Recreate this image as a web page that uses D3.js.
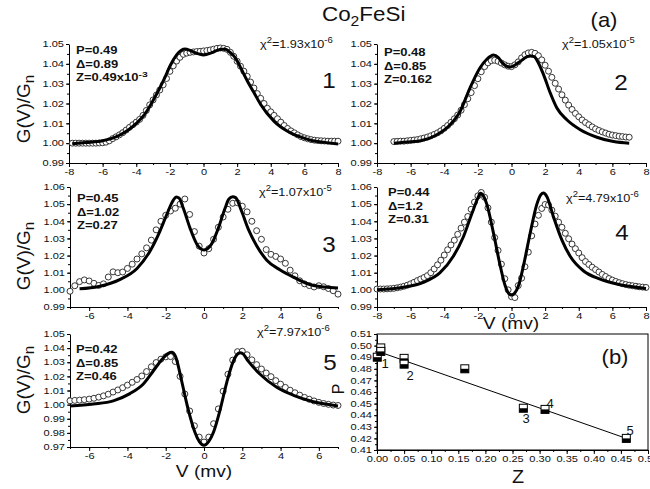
<!DOCTYPE html>
<html>
<head>
<meta charset="utf-8">
<script src="https://cdn.jsdelivr.net/npm/d3@7"></script>
<style>
  body { margin: 0; background: #fff; }
  svg { display: block; }
  text { font-family: "Liberation Sans", Arial, sans-serif; fill: #111; }
</style>
</head>
<body>
<div id="chart"></div>
<script>
// ---- data (G values as (G/Gn - 1) * 1000) ----

// measured points (open circles), evenly sampled in V
const meas1V = d3.range(0, 80).map(i => +(-7.8 + i * 0.2).toFixed(2));
const meas1G = [0,0,0,0,0,0,0,0,0.1,0.2, 0.5,1.2,2.3,3.2,4.2,5.3,6.6,8.0,9.3,10.6,
  12.0,14.0,16.5,19.3,21.8,24.3,26.8,29.4,32.6,36.2, 39.0,41.4,43.3,44.8,45.4,45.8,46.0,46.2,46.3,46.5,
  46.7,47.0,47.4,47.8,48.0,47.8,47.3,45.8,43.8,41.3, 38.8,36.3,33.7,30.8,27.8,25.0,22.6,20.0,17.6,15.8,
  14.0,12.3,10.6,8.9,7.4,6.2,5.2,4.2,3.3,2.7, 2.2,1.8,1.5,1.3,1.2,1.1,1.0,1.0,1.0,1.0];

const meas2V = d3.range(0, 71).map(i => +(-7 + i * 0.2).toFixed(2));
const meas2G = [0.8,0.9,1.0,1.0,1.2,1.4,1.6,1.8,2.2,2.6, 3.1,3.7,4.4,5.2,6.2,7.5,8.9,10.5,12.3,14.2,
  16.6,19.4,22.4,25.5,29.0,32.5,36.0,38.6,40.5,41.6, 41.8,41.3,40.4,39.5,38.8,38.6,39.5,41.0,43.0,44.6,
  45.5,45.8,45.3,44.1,42.0,39.3,36.3,33.2,30.2,27.3, 24.4,21.7,19.2,17.0,15.0,13.3,11.7,10.4,9.3,8.2,
  7.2,6.4,5.7,5.1,4.5,4.1,3.8,3.5,3.3,3.1, 3.0];

const meas3V = d3.range(0, 57).map(i => +(-7 + i * 0.25).toFixed(2));
const meas3G = [-0.8,2.4,4.8,5.8,5.2,3.8,2.6,3.5,7.5,10.5, 10.0,10.4,12.5,15.0,18.0,21.0,24.5,29.0,35.0,40.0,
  43.5,46.0,47.6,50.0,53.0,44.0,34.0,25.5,21.5,24.0, 29.5,36.5,42.5,47.0,50.5,50.8,48.8,45.5,40.0,34.5,
  29.5,23.5,20.7,19.5,18.0,15.5,11.5,8.2,5.3,3.5, 2.5,1.7,2.4,1.8,0.8,-0.5,-2.5];

const meas4V = d3.range(0, 81).map(i => +(-8 + i * 0.2).toFixed(2));
const meas4G = [0.5,0.5,0.5,0.6,0.7,0.9,1.2,1.6,2.1,2.7, 3.5,4.4,5.4,6.3,7.2,8.3,10.0,12.2,14.6,17.3,
  20.3,23.4,26.2,29.0,32.4,36.0,39.5,42.8,47.0,51.2, 54.8,56.8,54.0,47.8,39.5,30.5,23.0,15.0,6.5,0.0,
  -4.0,-4.5,2.5,6.8,13.5,22.0,31.5,38.4,43.5,47.5, 49.8,49.5,46.5,43.0,39.5,36.5,33.0,29.8,26.7,24.0,
  21.5,18.8,16.5,14.8,13.2,11.8,10.4,9.0,7.8,6.6, 5.7,4.9,4.2,3.6,3.1,2.7,2.4,2.1,1.8,1.6, 1.4];

const meas5V = d3.range(0, 57).map(i => +(-7 + i * 0.25).toFixed(2));
const meas5G = [2.7,3.0,3.2,3.5,3.9,4.5,5.3,6.2,7.4,8.9, 10.4,12.0,13.8,15.8,17.8,20.3,23.4,26.8,29.8,32.2,
  33.8,34.0,30.5,20.0,7.5,-4.5,-15.0,-23.0,-26.5,-23.0, -13.5,-3.0,9.5,21.5,31.5,37.5,37.8,35.3,31.7,28.3,
  25.2,22.4,19.8,17.0,14.5,12.2,10.2,8.4,6.7,5.1, 3.8,2.6,1.6,0.8,0.2,-0.3,-0.6];

// fitted curves (solid lines)
const fit1V = [-7.8,-7,-6,-5,-4.5,-4,-3.5,-3.2,-3,-2.6,-2.3,-2,-1.6,-1.3,-1.1,-0.8,-0.5,0,0.5,0.8,1.1,1.3,1.6,1.8,2,2.3,2.6,3,3.4,4.2,5,5.8,6.5,7.2,8];
const fit1G = [-0.3,0.3,1.2,4.0,6.5,10.0,14.5,18.5,21.5,27.8,33,38.8,44.5,47.0,47.5,46.8,45.6,44.5,45.6,46.8,47.4,47.3,45.6,44,41.5,36.5,31.5,25.5,19.5,11,6,3.0,1.2,0.4,-0.4];

const fit2V = [-7,-6,-5.4,-4.5,-3.65,-3.06,-2.46,-1.87,-1.47,-1.07,-0.8,-0.58,-0.08,0.42,0.91,1.11,1.35,1.5,1.9,2.3,2.7,3.29,4.09,5.08,6.07,7];
const fit2G = [0.0,0.7,1.2,4.0,9.3,16,28,38,42.3,44.4,43.3,40.8,38.4,40.6,43.5,44.0,43.6,42.0,34.7,25.4,17.7,11.8,6.8,3.0,0.8,0.0];

const fit3V = [-6.5,-5.5,-4.4,-3.5,-2.8,-2.3,-1.95,-1.6,-1.45,-1.3,-1.08,-0.73,-0.38,0,0.4,0.75,1.1,1.3,1.5,1.65,1.97,2.32,2.75,3.28,3.98,4.68,5.72,7];
const fit3G = [0.6,2.0,6.0,12.5,23,34.3,43.8,52.4,54.2,53.5,47.6,36,26.8,23.3,26.8,36,47.6,53.0,54.3,53.8,45.7,35.3,25.8,17.3,11.6,7.4,2.5,1.1];

const fit4V = [-8,-6.43,-5.24,-4.25,-3.46,-2.86,-2.36,-2,-1.85,-1.65,-1.47,-1.07,-0.67,-0.38,-0.15,0,0.15,0.42,0.71,1.11,1.51,1.75,1.9,2.1,2.5,3,3.49,4.29,5.27,6.27,8];
const fit4G = [0.0,1.5,4.4,10,19.6,31,44.4,53.5,56.3,54.5,50,33,14,2.5,-2.3,-3,-2.3,2.5,14,33,50,55.5,56.5,54.5,42.5,29,19.6,11,6.3,3.4,0.8];

const fit5V = [-7,-5.78,-4.74,-3.87,-3.17,-2.65,-2.21,-1.86,-1.69,-1.5,-1.43,-1.17,-0.82,-0.47,-0.25,0,0.25,0.49,0.84,1.19,1.53,1.8,1.9,2.0,2.32,2.93,3.8,4.68,5.72,7];
const fit5G = [-0.9,0.5,2.7,7.8,14.6,23.8,31.8,36.3,37.0,34.5,31.8,16.9,-3.7,-19.7,-26,-28.8,-26,-19.7,-3.7,15.8,30.6,36.3,36.8,36.4,30.6,21.5,12.3,6.6,2.0,-0.9];

// fit parameters and chi^2 per panel
const paramP = ['0.49', '0.48', '0.45', '0.44', '0.42'];
const paramDelta = ['0.89', '0.85', '1.02', '1.2', '0.85'];
const paramZ = [['0.49x10', '-3'], ['0.162'], ['0.27'], ['0.31'], ['0.46']];
const chiMant = ['1.93', '1.05', '1.07', '4.79', '7.97'];
const chiExp = ['-6', '-5', '-5', '-6', '-6'];

// axis ticks
const gTicksA = [0.99, 1.00, 1.01, 1.02, 1.03, 1.04, 1.05];
const gTicksB = [0.99, 1.00, 1.01, 1.02, 1.03, 1.04, 1.05, 1.06];
const gTicksC = [0.97, 0.98, 0.99, 1.00, 1.01, 1.02, 1.03, 1.04, 1.05];
const vTicks8 = [-8, -6, -4, -2, 0, 2, 4, 6, 8];
const vTicks7 = [-6, -4, -2, 0, 2, 4, 6];

// panel (b): P versus Z
const bZ = [0.0005, 0.007, 0.007, 0.05, 0.05, 0.162, 0.27, 0.31, 0.46];
const bP = [0.490, 0.498, 0.495, 0.489, 0.484, 0.480, 0.446, 0.445, 0.420];
const bFitZ = [0, 0.46];
const bFitP = [0.4953, 0.4200];
const bLabels = ['1', '2', '3', '4', '5'];
const zTicks = [0, 0.05, 0.1, 0.15, 0.2, 0.25, 0.3, 0.35, 0.4, 0.45, 0.5];
const pTicks = [0.41, 0.42, 0.43, 0.44, 0.45, 0.46, 0.47, 0.48, 0.49, 0.50, 0.51];

// ---- layout ----
const W = 650, H = 489;
const SX = 1.3; // the figure is stretched horizontally

const panels = [
  { V: meas1V, G: meas1G, fV: fit1V, fG: fit1G, vDom: [-8, 8], gDom: [0.99, 1.05], gT: gTicksA, vT: vTicks8,
    left: 69, right: 338, top: 44, bottom: 163, chi: [260, 48], par: [76, 54], num: [329, 88] },
  { V: meas2V, G: meas2G, fV: fit2V, fG: fit2G, vDom: [-8, 8], gDom: [0.99, 1.05], gT: gTicksA, vT: vTicks8,
    left: 377, right: 646, top: 44, bottom: 163, chi: [562, 48], par: [384, 56], num: [621, 90] },
  { V: meas3V, G: meas3G, fV: fit3V, fG: fit3G, vDom: [-7, 7], gDom: [0.99, 1.06], gT: gTicksB, vT: vTicks7,
    left: 70, right: 338, top: 187, bottom: 307, chi: [259, 196], par: [77, 202], num: [329, 252] },
  { V: meas4V, G: meas4G, fV: fit4V, fG: fit4G, vDom: [-8, 8], gDom: [0.99, 1.06], gT: gTicksB, vT: vTicks8,
    left: 377, right: 646, top: 187, bottom: 307, chi: [566, 202], par: [388, 196], num: [622, 240] },
  { V: meas5V, G: meas5G, fV: fit5V, fG: fit5G, vDom: [-7, 7], gDom: [0.97, 1.05], gT: gTicksC, vT: vTicks7,
    left: 70, right: 338, top: 334, bottom: 447, chi: [257, 336], par: [76, 353], num: [330, 370] }
];

const svg = d3.select('#chart').append('svg')
  .attr('width', W).attr('height', H);

// text helper: parts are [string, baselineShift, sizeFactor]
function addText(x, y, parts, o) {
  let tr = `translate(${x},${y})`;
  if (o.rotate) tr += ` rotate(${o.rotate})`;
  tr += ` scale(${o.sx || 1},1)`;
  const t = svg.append('text')
    .attr('transform', tr)
    .attr('text-anchor', o.anchor || 'start')
    .style('font-size', o.size + 'px')
    .style('font-weight', o.bold ? 'bold' : 'normal');
  let prev = 0;
  parts.forEach(p => {
    const shift = p[1] || 0;
    const f = p[2] || 1;
    t.append('tspan')
      .attr('dy', shift - prev)
      .style('font-size', (o.size * f) + 'px')
      .text(p[0]);
    prev = shift;
  });
  return t;
}

function styleAxis(g, size) {
  g.select('.domain').attr('stroke', '#000');
  g.selectAll('.tick line').attr('stroke', '#000');
  g.selectAll('text')
    .style('font-size', size + 'px')
    .style('font-family', '"Liberation Sans", Arial, sans-serif')
    .attr('fill', '#222')
    .attr('x', function () { return (+d3.select(this).attr('x') || 0) / SX; })
    .attr('transform', `scale(${SX},1)`);
}

function minorOf(ticks, lo, hi) {
  const step = (ticks[1] - ticks[0]) / 2;
  const out = [];
  for (let v = lo; v <= hi + 1e-9; v += step) out.push(+v.toFixed(4));
  return out;
}

panels.forEach((p, k) => {
  const x = d3.scaleLinear().domain(p.vDom).range([p.left, p.right]);
  const y = d3.scaleLinear().domain(p.gDom).range([p.bottom, p.top]);

  // minor ticks
  svg.append('g')
    .attr('transform', `translate(0,${p.bottom})`)
    .call(d3.axisBottom(x).tickValues(minorOf(p.vT, p.vDom[0], p.vDom[1])).tickSize(2).tickSizeOuter(0).tickFormat(''))
    .call(g => g.select('.domain').remove())
    .call(g => g.selectAll('line').attr('stroke', '#000'));
  svg.append('g')
    .attr('transform', `translate(${p.left},0)`)
    .call(d3.axisLeft(y).tickValues(minorOf(p.gT, p.gDom[0], p.gDom[1])).tickSize(2).tickSizeOuter(0).tickFormat(''))
    .call(g => g.select('.domain').remove())
    .call(g => g.selectAll('line').attr('stroke', '#000'));

  // major axes
  svg.append('g')
    .attr('transform', `translate(0,${p.bottom})`)
    .call(d3.axisBottom(x).tickValues(p.vT).tickSize(4).tickSizeOuter(0).tickPadding(2)
      .tickFormat(d => String(d)))
    .call(g => styleAxis(g, 8.5));
  svg.append('g')
    .attr('transform', `translate(${p.left},0)`)
    .call(d3.axisLeft(y).tickValues(p.gT).tickSize(3).tickSizeOuter(0).tickPadding(2)
      .tickFormat(d3.format('.2f')))
    .call(g => styleAxis(g, 8.5));

  // measured points
  svg.append('g')
    .selectAll('circle')
    .data(p.V.map((v, i) => [v, 1 + p.G[i] / 1000]))
    .join('circle')
    .attr('cx', d => x(d[0]))
    .attr('cy', d => y(d[1]))
    .attr('r', 3)
    .attr('fill', '#fff')
    .attr('stroke', '#222')
    .attr('stroke-width', 0.9);

  // fit line
  const line = d3.line()
    .x(d => x(d[0]))
    .y(d => y(d[1]))
    .curve(d3.curveMonotoneX);
  svg.append('path')
    .datum(p.fV.map((v, i) => [v, 1 + p.fG[i] / 1000]))
    .attr('d', line)
    .attr('fill', 'none')
    .attr('stroke', '#000')
    .attr('stroke-width', 3);

  // annotations
  addText(p.par[0], p.par[1], [['P=' + paramP[k]]], { size: 10, bold: true, sx: SX });
  addText(p.par[0], p.par[1] + 13.5, [['\u0394=' + paramDelta[k]]], { size: 10, bold: true, sx: SX });
  const zParts = [['Z=' + paramZ[k][0]]];
  if (paramZ[k][1]) zParts.push([paramZ[k][1], -4.5, 0.8]);
  addText(p.par[0], p.par[1] + 27, zParts, { size: 10, bold: true, sx: SX });

  addText(p.chi[0], p.chi[1],
    [['\u03c7'], ['2', -5, 0.75], ['=' + chiMant[k] + 'x10'], [chiExp[k], -5, 0.75]],
    { size: 11, sx: 1.15 });

  addText(p.num[0], p.num[1], [[String(k + 1)]], { size: 22, sx: 1.1, anchor: 'middle' });
});

// y labels G(V)/Gn
[109, 256, 380].forEach(cy => {
  addText(30, cy, [['G(V)/G'], ['n', 4, 0.8]], { size: 19, rotate: -90, anchor: 'middle' });
});

// x labels
addText(511, 329, [['V (mv)']], { size: 16, sx: 1.2, anchor: 'middle' });
addText(204, 477, [['V (mv)']], { size: 16, sx: 1.2, anchor: 'middle' });

// title and panel letters
addText(322, 21, [['Co'], ['2', 5, 0.7], ['FeSi']], { size: 20, sx: 1.12 });
addText(604, 27, [['(a)']], { size: 20, sx: 1.1, anchor: 'middle' });

// ---- panel (b) ----
const bx = d3.scaleLinear().domain([0, 0.5]).range([377, 648]);
const by = d3.scaleLinear().domain([0.41, 0.51]).range([450, 334]);

svg.append('g')
  .attr('transform', 'translate(0,450)')
  .call(d3.axisBottom(bx).tickValues(minorOf(zTicks, 0, 0.5)).tickSize(2).tickSizeOuter(0).tickFormat(''))
  .call(g => g.select('.domain').remove())
  .call(g => g.selectAll('line').attr('stroke', '#000'));
svg.append('g')
  .attr('transform', 'translate(377,0)')
  .call(d3.axisLeft(by).tickValues(minorOf(pTicks, 0.41, 0.51)).tickSize(2).tickSizeOuter(0).tickFormat(''))
  .call(g => g.select('.domain').remove())
  .call(g => g.selectAll('line').attr('stroke', '#000'));
svg.append('g')
  .attr('transform', 'translate(0,450)')
  .call(d3.axisBottom(bx).tickValues(zTicks).tickSize(4).tickSizeOuter(0).tickPadding(2)
    .tickFormat(d3.format('.2f')))
  .call(g => styleAxis(g, 8.5));
svg.append('g')
  .attr('transform', 'translate(377,0)')
  .call(d3.axisLeft(by).tickValues(pTicks).tickSize(3).tickSizeOuter(0).tickPadding(2)
    .tickFormat(d3.format('.2f')))
  .call(g => styleAxis(g, 8.5));

svg.append('rect')
  .attr('x', bx(0)).attr('y', by(0.51))
  .attr('width', bx(0.5) - bx(0)).attr('height', by(0.41) - by(0.51))
  .attr('fill', 'none').attr('stroke', '#000');

svg.append('path')
  .datum(bFitZ.map((z, i) => [z, bFitP[i]]))
  .attr('d', d3.line().x(d => bx(d[0])).y(d => by(d[1])))
  .attr('stroke', '#000').attr('stroke-width', 1).attr('fill', 'none');

const sq = svg.append('g').selectAll('g')
  .data(bZ.map((z, i) => [z, bP[i]]))
  .join('g')
  .attr('transform', d => `translate(${bx(d[0])},${by(d[1])})`);
sq.append('rect').attr('x', -4).attr('y', -4).attr('width', 8).attr('height', 8)
  .attr('fill', '#fff').attr('stroke', '#000').attr('stroke-width', 1);
sq.append('rect').attr('x', -4).attr('y', 0).attr('width', 8).attr('height', 4)
  .attr('fill', '#000');

const bLabelPos = [[385, 368], [410, 380], [526, 423], [550, 408], [630, 435]];
bLabels.forEach((s, i) => {
  addText(bLabelPos[i][0], bLabelPos[i][1], [[s]], { size: 13, anchor: 'middle' });
});

addText(615, 364, [['(b)']], { size: 20, sx: 1.1, anchor: 'middle' });
addText(518, 483, [['Z']], { size: 18, sx: 1.1, anchor: 'middle' });
addText(344, 389, [['P']], { size: 16, rotate: -90, anchor: 'middle' });
</script>
</body>
</html>
